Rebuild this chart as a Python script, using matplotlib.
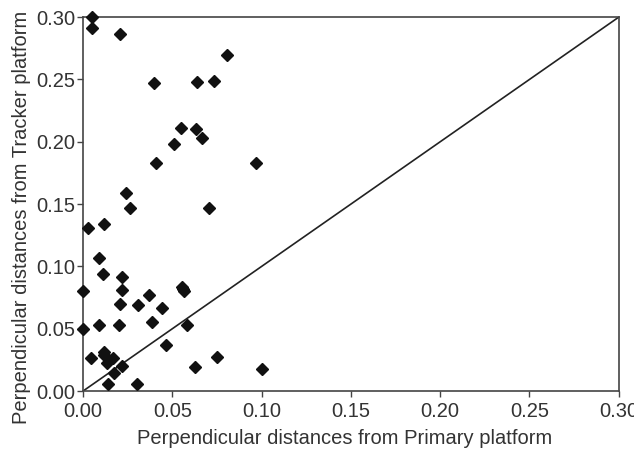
import numpy as np
from matplotlib import pyplot as plt

#
# Data
#
primary = [0.0049, 0.0049, 0.0207, 0.0396, 0.0640, 0.0733, 0.0808, 0.0548,
           0.0634, 0.0668, 0.0508, 0.0408, 0.0968, 0.0241, 0.0265, 0.0707,
           0.0026, 0.0119, 0.0091, 0.0112, 0.0220, 0.0000, 0.0220, 0.0552,
           0.0558, 0.0564, 0.0368, 0.0207, 0.0308, 0.0442, 0.0000, 0.0088,
           0.0200, 0.0388, 0.0580, 0.0466, 0.0046, 0.0119, 0.0119, 0.0166,
           0.0133, 0.0748, 0.0220, 0.0172, 0.0628, 0.1002, 0.0142, 0.0302]
tracker = [0.2997, 0.2910, 0.2865, 0.2472, 0.2480, 0.2490, 0.2694, 0.2109,
           0.2099, 0.2031, 0.1983, 0.1831, 0.1831, 0.1590, 0.1465, 0.1465,
           0.1310, 0.1339, 0.1069, 0.0936, 0.0917, 0.0804, 0.0812, 0.0836,
           0.0820, 0.0800, 0.0772, 0.0695, 0.0687, 0.0666, 0.0497, 0.0532,
           0.0532, 0.0551, 0.0532, 0.0371, 0.0265, 0.0310, 0.0289, 0.0267,
           0.0227, 0.0275, 0.0200, 0.0142, 0.0190, 0.0176, 0.0056, 0.0054]
ticks = [0.00, 0.05, 0.10, 0.15, 0.20, 0.25, 0.30]

plt.rcParams['font.family'] = ['Liberation Sans', 'DejaVu Sans']
TXT = '#333333'

fig = plt.figure(figsize=(6.34, 4.5), dpi=100)
ax = fig.add_axes([0.131, 0.131, 0.845, 0.831])

# line of equality
ax.plot([0, 0.30], [0, 0.30], color='#222222', lw=1.2, zorder=1)
ax.plot(primary, tracker, linestyle='none', marker='D', ms=6,
        color='#111111', zorder=3, clip_on=False)

ax.set_xlim(0, 0.30)
ax.set_ylim(0, 0.30)
ax.set_xticks(ticks)
ax.set_yticks(ticks)
ax.set_xticklabels(['%.2f' % t for t in ticks])
ax.set_yticklabels(['%.2f' % t for t in ticks])
ax.tick_params(direction='out', length=4, width=1, colors='#444444',
               labelcolor=TXT, labelsize=14.5, pad=1.5)
ax.tick_params(axis='x', pad=4)

for s in ax.spines.values():
    s.set_color('#444444')
    s.set_linewidth(1.2)

ax.set_xlabel('Perpendicular distances from Primary platform',
              fontsize=14.5, color=TXT, labelpad=6)
ax.set_ylabel('Perpendicular distances from Tracker platform',
              fontsize=14.5, color=TXT, labelpad=4)
# labels are a little off centre in the original
ax.xaxis.label.set_x(0.489)
ax.yaxis.label.set_y(0.464)

fig.savefig('out.png', dpi=100)
